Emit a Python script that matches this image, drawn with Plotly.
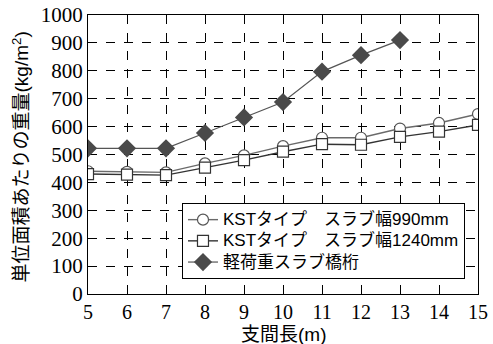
import plotly.graph_objects as go

# Span length (m)
span = [5, 6, 7, 8, 9, 10, 11, 12, 13, 14, 15]
span_light = [5, 6, 7, 8, 9, 10, 11, 12, 13]

# Weight per unit area (kg/m2)
kst_990 = [440, 438, 436, 468, 497, 530, 560, 560, 593, 613, 645]
kst_1240 = [430, 428, 426, 453, 480, 510, 537, 535, 563, 582, 606]
light_slab = [522, 522, 522, 577, 633, 688, 797, 856, 910]

names = ["KSTタイプ　スラブ幅990mm", "KSTタイプ　スラブ幅1240mm", "軽荷重スラブ橋桁"]
y_ticks = list(range(0, 1001, 100))

sans = "Liberation Sans, Noto Sans CJK JP"
serif = "Liberation Serif"


def legend_label(text):
    # larger glyphs while keeping compact legend rows
    return f"<span style='font-size:17px'>{text}</span>"


fig = go.Figure()
fig.add_trace(go.Scatter(
    x=span, y=kst_990, name=legend_label(names[0]), mode="lines+markers",
    line=dict(color="#6a6a6a", width=1.4),
    marker=dict(symbol="circle", size=11, color="white",
                line=dict(color="#555555", width=1.2)),
))
fig.add_trace(go.Scatter(
    x=span, y=kst_1240, name=legend_label(names[1]), mode="lines+markers",
    line=dict(color="#333333", width=1.4),
    marker=dict(symbol="square", size=11, color="white",
                line=dict(color="#333333", width=1.2)),
))
fig.add_trace(go.Scatter(
    x=span_light, y=light_slab, name=legend_label(names[2]), mode="lines+markers",
    line=dict(color="#555555", width=1.2),
    marker=dict(symbol="diamond", size=14, color="#4a4a4a",
                line=dict(color="#4a4a4a", width=0)),
))

fig.update_layout(
    width=493, height=344,
    margin=dict(l=88, r=15, t=15, b=50, autoexpand=False),
    paper_bgcolor="white", plot_bgcolor="white",
    font=dict(family=serif, color="black"),
    showlegend=True,
    legend=dict(
        x=0.241, y=0.326, xanchor="left", yanchor="top",
        bgcolor="white", bordercolor="black", borderwidth=1,
        font=dict(family=sans, size=14, color="black"),
        tracegroupgap=0, itemwidth=30,
    ),
)
fig.update_xaxes(
    range=[5, 15], tickmode="array", tickvals=span,
    ticks="", showline=True, linecolor="black", linewidth=1, mirror=True,
    showgrid=True, gridcolor="black", griddash="dash", gridwidth=1,
    zeroline=False, automargin=False,
    tickfont=dict(family=serif, size=20, color="black"),
)
fig.update_yaxes(
    range=[0, 1000], tickmode="array", tickvals=y_ticks,
    ticks="", showline=True, linecolor="black", linewidth=1, mirror=True,
    showgrid=True, gridcolor="black", griddash="dash", gridwidth=1,
    zeroline=False, automargin=False,
    tickfont=dict(family=serif, size=21, color="black"),
)

# axis titles
fig.add_annotation(
    text="支間長(m)", xref="paper", yref="paper", x=0.5, y=0,
    xanchor="center", yanchor="middle", yshift=-40, showarrow=False,
    font=dict(family=sans, size=19, color="black"),
)
fig.add_annotation(
    text="単位面積あたりの重量(kg/m<sup>2</sup>)", xref="paper", yref="paper",
    x=0, y=0.5, xanchor="center", yanchor="middle", xshift=-68, yshift=-3,
    textangle=-90, showarrow=False,
    font=dict(family=sans, size=19, color="black"),
)

fig.write_html("out.html")
